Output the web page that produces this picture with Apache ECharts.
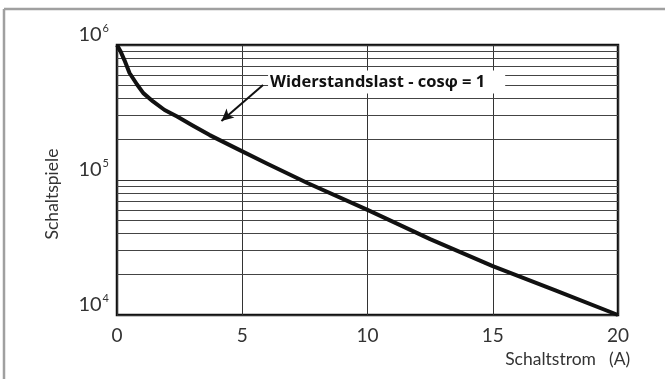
<!DOCTYPE html>
<html>
<head>
<meta charset="utf-8">
<script src="https://cdn.jsdelivr.net/npm/echarts@6/dist/echarts.min.js"></script>
<style>
html,body{margin:0;padding:0;background:#fff;}
#c{width:665px;height:379px;}
</style>
</head>
<body>
<div id="c"></div>
<script>
// Data
const xValues = [0, 0.15, 0.3, 0.5, 0.8, 1.05, 1.45, 1.9, 2.4, 3.0, 3.7, 4.8, 6.0, 7.6, 10, 12.5, 15, 17.5, 20];
const yValues = [1000000, 890000, 770000, 620000, 510000, 440000, 380000, 330000, 295000, 254000, 215000, 170000, 132000, 95000, 60000, 36500, 23000, 15200, 10000];
const minorGridValues = [20000, 30000, 40000, 50000, 60000, 70000, 80000, 90000,
                         200000, 300000, 400000, 500000, 600000, 700000, 800000, 900000];
const annotationText = 'Widerstandslast - cosφ = 1';
const annotationAnchor = [6.03, 532000];
const arrowFrom = [5.83, 506000];
const arrowTo = [4.17, 274000];
const xAxisTitle = 'Schaltstrom';
const xAxisUnit = '(A)';
const yAxisTitle = 'Schaltspiele';

const chart = echarts.init(document.getElementById('c'), null, {renderer: 'canvas'});
const labelFont = 'Lato, "DejaVu Sans", sans-serif';

const option = {
  animation: false,
  backgroundColor: '#fff',
  grid: {left: 117, right: 47, top: 45, bottom: 64, show: true,
         borderColor: '#111', borderWidth: 2.5, backgroundColor: 'transparent'},
  xAxis: {
    type: 'value', min: 0, max: 20, interval: 5,
    axisLine: {show: false}, axisTick: {show: false},
    splitLine: {show: true, lineStyle: {color: '#333', width: 1}},
    axisLabel: {color: '#333', fontSize: 19, fontFamily: labelFont, margin: 11}
  },
  yAxis: {
    type: 'log', logBase: 10, min: 10000, max: 1000000, splitNumber: 2,
    axisLine: {show: false}, axisTick: {show: false},
    splitLine: {show: true, lineStyle: {color: '#333', width: 1}},
    axisLabel: {
      margin: 8, verticalAlign: 'bottom',
      formatter: function (v) { return '{b|10}{s|' + Math.round(Math.log10(v)) + '}'; },
      rich: {
        b: {fontSize: 20, color: '#333', fontFamily: labelFont, verticalAlign: 'bottom'},
        s: {fontSize: 11, color: '#333', fontFamily: labelFont, verticalAlign: 'top', padding: [0, 0, 11, 1]}
      }
    }
  },
  graphic: [
    {type: 'line', shape: {x1: 4, y1: 9, x2: 665, y2: 9}, style: {stroke: '#a0a0a0', lineWidth: 2.5}},
    {type: 'line', shape: {x1: 4, y1: 9, x2: 4, y2: 379}, style: {stroke: '#a0a0a0', lineWidth: 2.5}},
    {type: 'text', x: 52, y: 194, rotation: Math.PI / 2,
     style: {text: yAxisTitle, fill: '#333', font: '17.5px ' + labelFont, textAlign: 'center', textVerticalAlign: 'middle'}},
    {type: 'text', x: 596, y: 359,
     style: {text: xAxisTitle, fill: '#333', font: '17.5px ' + labelFont, textAlign: 'right', textVerticalAlign: 'middle'}},
    {type: 'text', x: 609, y: 359,
     style: {text: xAxisUnit, fill: '#333', font: '17.5px ' + labelFont, textAlign: 'left', textVerticalAlign: 'middle'}}
  ],
  series: [
    {
      type: 'line', data: [], z: 1, silent: true,
      markLine: {
        silent: true, symbol: ['none', 'none'], label: {show: false},
        lineStyle: {color: '#444', width: 1, type: 'solid'},
        data: minorGridValues.map(v => ({yAxis: v}))
      }
    },
    {
      type: 'line', z: 5,
      data: xValues.map((x, i) => [x, yValues[i]]),
      smooth: false,
      showSymbol: false, symbol: 'none',
      lineStyle: {color: '#111', width: 4, join: 'round'},
      markLine: {
        silent: true, symbol: ['none', 'arrow'], symbolSize: [9, 12],
        label: {show: false},
        lineStyle: {color: '#111', width: 2, type: 'solid'},
        data: [[{coord: arrowFrom}, {coord: arrowTo}]]
      },
      markPoint: {
        silent: true, symbol: 'rect', symbolSize: 0,
        label: {show: true, position: 'right', distance: 0,
          formatter: annotationText, color: '#111', fontWeight: 'bold', fontSize: 16.5,
          fontFamily: '"Open Sans", "Noto Sans", sans-serif',
          backgroundColor: '#fff', padding: [3, 20, 3, 2]},
        data: [{coord: annotationAnchor}]
      }
    }
  ]
};
chart.setOption(option);
</script>
</body>
</html>
